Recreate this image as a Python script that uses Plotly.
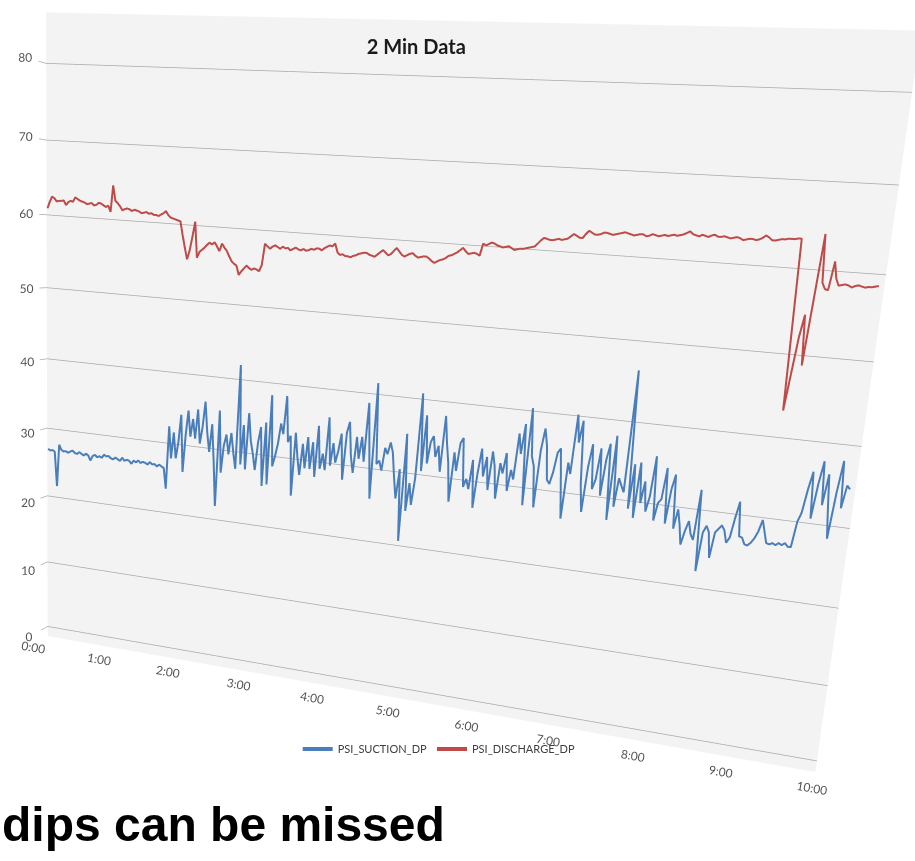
import plotly.graph_objects as go

# ---------------- data (2-minute samples, 0:00 .. 10:00) ----------------
minutes = list(range(0, 601, 2))
tick_minutes = [0, 60, 120, 180, 240, 300, 360, 420, 480, 540, 600]
tick_labels = ["0:00", "1:00", "2:00", "3:00", "4:00", "5:00",
               "6:00", "7:00", "8:00", "9:00", "10:00"]
value_ticks = [0, 10, 20, 30, 40, 50, 60, 70, 80]

psi_suction_dp = [
    27.2, 27.0, 27.1, 26.9, 21.9, 28.0, 27.3, 27.1, 27.2, 27.0,
    27.2, 27.4, 27.1, 27.0, 27.3, 27.1, 26.9, 27.2, 27.0, 26.3,
    27.0, 27.2, 26.9, 27.1, 26.9, 27.4, 27.2, 27.3, 27.0, 26.9,
    27.2, 27.0, 26.8, 27.3, 26.9, 27.1, 27.0, 26.6, 27.1, 26.9,
    27.2, 26.9, 27.1, 27.0, 26.8, 27.2, 26.9, 27.0, 26.7, 27.0,
    26.8, 26.6, 23.7,
    32.6, 28.1, 31.8, 28.2, 30.5,
    34.4, 26.4, 31.6, 35.1, 31.5, 34.0, 31.3, 35.4, 30.7, 33.0,
    36.6, 32.4, 29.7, 33.6, 28.4, 22.2, 35.6, 27.0, 30.8, 32.4,
    29.7, 32.7, 30.0, 27.8, 42.1,
    28.5, 34.0, 27.9, 35.7, 32.0, 30.2, 28.0, 31.9, 34.0, 25.9,
    34.7, 26.2, 38.5,
    28.8, 30.2, 32.0, 34.8, 33.4, 38.6, 32.4, 33.3, 25.1, 33.8,
    30.5, 28.1, 32.4, 29.1, 33.4, 29.1, 32.8, 28.1, 35.1, 29.3,
    31.4,
    29.2, 36.4, 29.9, 33.0, 30.4, 32.0, 34.4, 28.2, 34.6, 36.1,
    31.5, 29.3, 34.2, 31.3, 34.3, 31.0, 38.9, 32.6, 26.1, 41.6,
    30.9, 31.4, 30.1, 33.2, 32.4, 34.0, 32.7, 29.4, 26.6, 30.6,
    20.9,
    35.4, 25.1, 28.9, 26.0, 29.6, 40.9,
    30.7, 38.1, 31.8, 34.7, 35.5, 32.8, 34.3, 30.9, 38.3, 34.8,
    32.1, 27.1, 33.7, 31.3, 35.0, 35.7, 29.3, 30.4,
    29.1, 33.0, 26.7, 31.4, 34.6, 31.0, 33.6, 29.3, 34.4, 32.5,
    28.3, 33.0, 31.7, 34.4, 29.5, 32.3, 31.1, 37.1, 34.5, 38.4,
    27.9, 40.5,
    34.4, 33.1, 27.8, 35.3, 38.1, 36.0, 31.6, 31.1, 32.7, 35.2,
    35.8, 31.4, 26.8, 34.1, 32.7, 40.3,
    36.8, 39.6, 31.6, 28.0, 33.9, 36.8, 31.1, 32.4, 36.4, 30.4,
    35.0, 37.1, 27.4, 38.2, 29.2, 32.9, 32.0, 31.2, 46.5,
    29.2, 34.9, 28.1, 35.2, 30.1, 32.9, 29.1, 31.0, 36.2, 28.1,
    30.4, 30.9, 34.9, 27.9, 32.3, 34.2, 27.4, 29.9, 28.0, 25.5,
    27.3, 28.6, 27.0, 26.3, 32.7, 22.4,
    27.4, 28.3, 27.5, 24.3, 27.6, 28.1, 28.6, 28.0, 26.5, 27.2,
    29.7, 31.8, 27.5, 27.4, 26.6, 26.5, 26.9, 27.5, 28.4, 29.9,
    28.5, 27.1, 27.0, 27.2, 27.0, 27.3, 27.1, 27.4, 27.0, 27.0,
    30.2, 31.4, 34.3, 36.5, 30.8, 35.1, 37.9, 32.6, 36.4, 32.3,
    28.6, 34.3, 38.2, 32.5, 35.3, 34.9,
]

psi_discharge_dp = [
    60.9, 61.8, 62.5, 62.3, 61.9, 62.0, 62.0, 62.1, 61.5, 61.9,
    62.1, 62.0, 62.6, 62.4, 62.2, 62.1, 62.0, 61.8, 61.9, 62.0,
    61.7, 61.8, 62.1, 62.0, 61.8, 61.6, 61.8, 61.0, 64.5, 62.5,
    62.2, 61.8, 61.3, 61.5, 61.6, 61.5, 61.3, 61.5, 61.4, 61.3,
    61.1, 61.2, 61.3, 61.1, 61.2, 61.0, 61.0, 60.9, 61.1, 61.3,
    61.6, 61.1, 60.8, 60.7, 60.6, 60.5, 60.4, 58.6, 57.0, 55.5,
    56.7, 58.5, 60.5, 55.8, 56.6, 56.9, 57.2, 57.6, 57.9, 57.7,
    58.0, 57.5, 56.9, 57.9, 57.4, 57.0, 56.3, 55.7, 55.4, 55.2,
    54.0, 54.5, 54.9, 55.3, 55.0, 54.8, 55.0, 54.9, 54.7, 55.5,
    58.3, 58.0, 57.7, 58.0, 58.2, 58.0, 57.8, 58.1, 57.9, 58.0,
    57.7, 57.9, 58.1, 57.9, 57.8, 58.0, 57.8, 57.9, 58.1, 58.0,
    58.2, 58.2, 58.0, 58.3, 58.5, 58.7, 58.6, 59.0, 57.9, 57.6,
    57.7, 57.5, 57.5, 57.4, 57.6, 57.7, 57.9, 58.0, 58.1, 58.1,
    57.9, 57.8, 57.7, 58.0, 58.3, 58.6, 58.3, 58.0, 58.2, 58.6,
    59.0, 58.6, 58.2, 58.0, 58.2, 58.4, 58.5, 58.2, 58.0, 58.1,
    58.2, 58.2, 58.0, 57.7, 57.5, 57.7, 57.9, 58.0, 58.2, 58.5,
    58.6, 58.8, 59.0, 59.3, 59.6, 59.2, 58.9, 59.0, 59.1, 59.0,
    58.8, 60.3, 60.1, 60.3, 60.5, 60.4, 60.2, 60.1, 60.0, 60.1,
    60.2, 60.0, 59.8, 59.9, 60.0, 60.0, 60.1, 60.2, 60.3, 60.4,
    60.8, 61.2, 61.5, 61.4, 61.3, 61.3, 61.4, 61.5, 61.4, 61.5,
    61.6, 61.9, 62.2, 62.0, 61.8, 61.8, 62.3, 62.7, 62.5, 62.3,
    62.3, 62.4, 62.6, 62.6, 62.5, 62.4, 62.5, 62.6, 62.7, 62.8,
    62.7, 62.6, 62.5, 62.6, 62.7, 62.7, 62.5, 62.6, 62.8, 62.7,
    62.6, 62.7, 62.8, 62.7, 62.8, 62.9, 62.8, 62.9, 63.0, 63.2,
    63.4, 63.1, 63.0, 62.9, 63.1, 63.0, 62.9, 63.1, 63.2, 63.0,
    63.0, 63.1, 63.0, 62.9, 63.0, 63.1, 63.0, 62.8, 62.9, 63.0,
    63.0, 62.9, 63.0, 63.2, 63.5, 63.3, 63.0, 63.0, 63.1, 63.2,
    63.2, 63.3, 63.3, 63.3, 63.4, 63.4, 43.4, 47.8, 52.2, 54.8,
    48.9, 56.5, 64.1, 58.6, 57.9, 57.8, 61.1, 59.2, 58.4, 58.5,
    58.6, 58.5, 58.3, 58.5, 58.6, 58.5, 58.4, 58.5, 58.5, 58.6,
    58.7,
]

n = min(len(minutes), len(psi_suction_dp), len(psi_discharge_dp))
plane_y = [0] * n

fig = go.Figure()
fig.add_trace(go.Scatter3d(
    x=minutes[:n], y=plane_y, z=psi_suction_dp[:n], mode="lines",
    name="PSI_SUCTION_DP", line=dict(color="#4a7ebb", width=4),
    hoverinfo="skip"))
fig.add_trace(go.Scatter3d(
    x=minutes[:n], y=plane_y, z=psi_discharge_dp[:n], mode="lines",
    name="PSI_DISCHARGE_DP", line=dict(color="#be4b48", width=4),
    hoverinfo="skip"))

tick_font = dict(family="Lato, Open Sans, sans-serif", size=12, color="#555555")
common = dict(showspikes=False, zeroline=False, showline=False, ticks="",
              title=dict(text=""))

fig.update_layout(
    width=915, height=861,
    margin=dict(l=0, r=0, t=0, b=0),
    paper_bgcolor="white",
    showlegend=True,
    scene=dict(
        domain=dict(x=[0, 1], y=[0, 1]),
        xaxis=dict(range=[-4, 604], tickmode="array", tickvals=tick_minutes,
                   ticktext=tick_labels, showgrid=False, showbackground=False,
                   tickangle=10, tickfont=tick_font, **common),
        yaxis=dict(range=[-1, 1], showgrid=False, showticklabels=False,
                   showbackground=True, backgroundcolor="#f3f3f3", **common),
        zaxis=dict(range=[-1.5, 86.5], tickmode="array", tickvals=value_ticks,
                   showgrid=True, gridcolor="#a9a9a9", gridwidth=1.5,
                   showbackground=False, tickangle=0, tickfont=tick_font,
                   **common),
        aspectmode="manual",
        aspectratio=dict(x=1.3644, y=0.02, z=1.1),
        camera=dict(eye=dict(x=0.455, y=-1.591, z=0.2274),
                    center=dict(x=0.0742, y=0.0, z=-0.074),
                    up=dict(x=-0.1102, y=0.1595, z=0.9811),
                    projection=dict(type="perspective")),
        dragmode="orbit",
        bgcolor="rgba(0,0,0,0)",
    ),
    title=dict(text="<b>2 Min Data</b>", x=0.455, y=0.945,
               xanchor="center", yanchor="middle",
               font=dict(family="Lato, Open Sans, sans-serif", size=20,
                         color="#1a1a1a")),
    legend=dict(orientation="h", x=0.48, xanchor="center", y=0.13,
                yanchor="middle", bgcolor="rgba(0,0,0,0)",
                font=dict(family="Lato, Open Sans, sans-serif", size=11,
                          color="#404040")),
    annotations=[dict(
        text="<b>dips can be missed</b>", xref="paper", yref="paper",
        x=0.0, y=0.042, xanchor="left", yanchor="middle", showarrow=False,
        font=dict(family="Liberation Sans, Arial, sans-serif", size=48,
                  color="#000000"))],
)

fig.write_html("out.html")
